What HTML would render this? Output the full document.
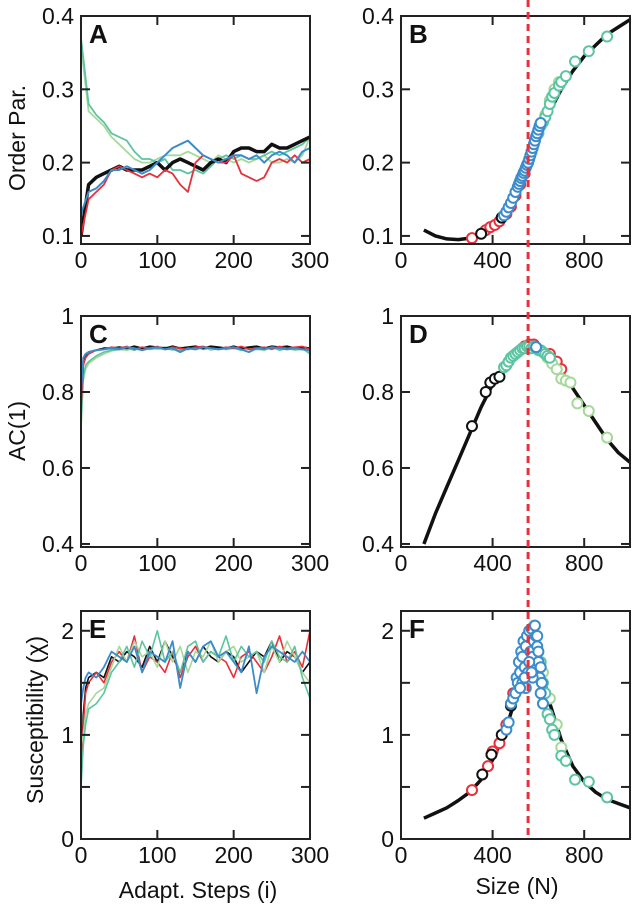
<!DOCTYPE html>
<html><head><meta charset="utf-8"><style>
html,body{margin:0;padding:0;background:#fff;}
svg{display:block;font-family:"Liberation Sans",Arial,sans-serif;}
</style></head><body>
<svg id="fig" width="632" height="908" viewBox="0 0 632 908"></svg>
<script>
// ---------- data ----------
const stepsA = [0,10,20,30,40,50,60,70,80,90,100,110,120,130,140,150,160,170,180,190,200,210,220,230,240,250,260,270,280,290,300];
const orderBlack = [0.10,0.17,0.18,0.185,0.19,0.195,0.19,0.19,0.19,0.195,0.20,0.19,0.20,0.205,0.20,0.195,0.19,0.20,0.205,0.20,0.215,0.22,0.22,0.215,0.215,0.225,0.22,0.22,0.225,0.23,0.235];
const orderRed = [0.10,0.15,0.16,0.17,0.19,0.195,0.19,0.185,0.18,0.185,0.18,0.19,0.185,0.17,0.16,0.20,0.21,0.205,0.20,0.20,0.21,0.185,0.18,0.175,0.18,0.20,0.205,0.20,0.21,0.20,0.205];
const orderBlue = [0.13,0.16,0.165,0.175,0.19,0.19,0.195,0.19,0.185,0.19,0.20,0.21,0.22,0.225,0.23,0.22,0.21,0.205,0.20,0.205,0.21,0.21,0.205,0.21,0.20,0.21,0.215,0.21,0.20,0.215,0.22];
const orderTeal = [0.37,0.28,0.265,0.255,0.24,0.235,0.23,0.215,0.205,0.205,0.20,0.205,0.19,0.19,0.185,0.19,0.185,0.195,0.205,0.21,0.205,0.21,0.205,0.205,0.21,0.215,0.21,0.215,0.22,0.225,0.235];
const orderLight = [0.36,0.27,0.26,0.25,0.235,0.225,0.215,0.205,0.20,0.20,0.205,0.21,0.21,0.21,0.215,0.21,0.205,0.20,0.21,0.205,0.20,0.205,0.20,0.205,0.21,0.20,0.20,0.205,0.20,0.21,0.235];

const stepsCE = [0,3,6,10,20,30,40,50,60,70,80,90,100,110,120,130,140,150,160,170,180,190,200,210,220,230,240,250,260,270,280,290,300];
const acBlack = [0.78,0.88,0.895,0.905,0.91,0.915,0.915,0.918,0.915,0.92,0.915,0.92,0.918,0.915,0.92,0.915,0.918,0.92,0.915,0.92,0.918,0.915,0.92,0.915,0.918,0.92,0.915,0.92,0.918,0.92,0.915,0.918,0.915];
const acRed = [0.76,0.87,0.89,0.9,0.91,0.912,0.918,0.915,0.92,0.912,0.918,0.915,0.92,0.912,0.918,0.915,0.912,0.918,0.92,0.915,0.912,0.918,0.915,0.92,0.912,0.915,0.918,0.912,0.92,0.915,0.918,0.92,0.912];
const acLight = [0.70,0.83,0.86,0.875,0.89,0.9,0.908,0.912,0.91,0.915,0.91,0.918,0.912,0.915,0.91,0.918,0.912,0.915,0.92,0.91,0.915,0.912,0.918,0.91,0.915,0.912,0.91,0.918,0.912,0.915,0.91,0.912,0.905];
const acTeal = [0.72,0.84,0.87,0.88,0.895,0.905,0.91,0.912,0.915,0.91,0.918,0.912,0.915,0.918,0.912,0.91,0.915,0.918,0.912,0.915,0.918,0.912,0.915,0.91,0.918,0.912,0.915,0.918,0.91,0.915,0.912,0.915,0.9];
const acBlue = [0.80,0.89,0.9,0.905,0.91,0.912,0.915,0.912,0.918,0.915,0.91,0.915,0.918,0.912,0.915,0.905,0.915,0.912,0.918,0.915,0.912,0.915,0.918,0.912,0.905,0.915,0.912,0.918,0.915,0.912,0.915,0.912,0.91];

const suscBlack = [0.6,1.2,1.45,1.55,1.6,1.55,1.75,1.7,1.8,1.75,1.65,1.85,1.7,1.9,1.75,1.6,1.8,1.7,1.85,1.75,1.7,1.8,1.75,1.6,1.7,1.8,1.75,1.9,1.7,1.8,1.75,1.6,1.7];
const suscRed = [0.7,1.1,1.4,1.5,1.6,1.5,1.7,1.8,1.7,1.95,1.6,1.75,1.7,1.6,1.8,1.55,1.75,1.85,1.7,1.8,1.75,1.7,1.55,1.75,1.8,1.7,1.6,1.75,1.95,1.7,1.8,1.65,2.0];
const suscLight = [0.9,1.0,1.2,1.3,1.4,1.45,1.65,1.85,1.7,1.9,1.75,1.8,1.65,1.9,1.7,1.85,1.6,1.8,1.75,1.9,1.7,1.8,1.85,1.7,1.75,1.8,1.6,1.85,1.7,1.9,1.75,1.6,1.5];
const suscTeal = [0.5,0.9,1.1,1.25,1.3,1.4,1.6,1.7,1.85,1.65,1.9,1.75,2.0,1.7,1.8,1.6,1.85,1.9,1.7,1.8,1.75,1.95,1.7,1.85,1.75,1.8,1.7,1.9,1.75,1.7,1.85,1.55,1.35];
const suscBlue = [1.3,1.45,1.55,1.6,1.55,1.65,1.8,1.75,1.7,1.85,1.6,1.8,1.75,1.7,1.9,1.45,1.8,1.7,1.85,1.9,1.75,1.8,1.7,1.6,1.85,1.4,1.75,1.85,1.8,1.75,1.7,1.8,1.7];

const sizeCurve = [100,150,200,250,300,350,400,450,500,550,600,650,700,750,800,850,900,950,1000];
const orderCurve = [0.108,0.10,0.096,0.095,0.097,0.102,0.112,0.13,0.16,0.195,0.235,0.27,0.30,0.325,0.345,0.36,0.375,0.385,0.395];
const acCurve = [0.40,0.48,0.55,0.62,0.69,0.76,0.82,0.865,0.895,0.91,0.905,0.885,0.855,0.81,0.765,0.72,0.675,0.64,0.615];
const suscCurve = [0.2,0.25,0.3,0.37,0.45,0.57,0.76,1.0,1.35,1.75,1.75,1.3,0.95,0.7,0.55,0.45,0.38,0.34,0.3];

const bRedN = [310,370,390,410,430,460,480,500,520,540];
const bRedY = [0.097,0.108,0.112,0.115,0.12,0.13,0.14,0.155,0.17,0.185];
const bBlackN = [350,440];
const bBlackY = [0.103,0.125];
const bLightN = [630,650,670,690];
const bLightY = [0.265,0.285,0.30,0.31];
const bTealN = [600,610,620,630,640,650,660,670,690,700,720,760,820,900];
const bTealY = [0.24,0.25,0.255,0.262,0.27,0.28,0.29,0.295,0.305,0.31,0.318,0.338,0.352,0.372];
const bBlueN = [450,460,470,480,490,500,510,515,520,525,530,535,540,545,550,555,560,565,570,575,580,585,590,595,600,605,610];
const bBlueY = [0.128,0.133,0.139,0.145,0.152,0.16,0.167,0.171,0.175,0.179,0.182,0.186,0.189,0.193,0.197,0.20,0.205,0.21,0.215,0.22,0.225,0.23,0.236,0.24,0.245,0.25,0.254];

const dBlackN = [310,370,390,410,430];
const dBlackY = [0.71,0.80,0.825,0.835,0.84];
const dRedN = [540,560,580,650,680,700];
const dRedY = [0.92,0.925,0.925,0.90,0.88,0.86];
const dLightN = [640,660,680,700,720,740,770,820,900];
const dLightY = [0.89,0.875,0.86,0.835,0.83,0.825,0.77,0.75,0.68];
const dTealN = [450,460,470,480,490,500,510,520,530,540,550,560,570,580,590,600,610,620,630,640,650];
const dTealY = [0.865,0.87,0.88,0.89,0.895,0.90,0.905,0.91,0.915,0.915,0.92,0.92,0.915,0.92,0.915,0.91,0.91,0.905,0.90,0.895,0.89];
const dBlueN = [590];
const dBlueY = [0.918];

const fRedN = [310,380,400,430,460,490,520,540];
const fRedY = [0.47,0.70,0.84,0.92,1.10,1.40,1.60,1.70];
const fBlackN = [355,395,440,480];
const fBlackY = [0.62,0.81,1.0,1.28];
const fLightN = [580,620,650,680,700];
const fLightY = [2.05,1.6,1.35,1.1,0.88];
const fTealN = [610,620,630,640,650,660,670,700,720,760,820,900];
const fTealY = [1.7,1.5,1.4,1.2,1.15,1.05,1.0,0.8,0.75,0.57,0.55,0.4];
const fBlueN = [460,470,480,490,500,505,510,515,520,525,530,535,540,545,550,555,560,565,570,575,580,585,590,595,600,605,610,615,620,530,545,560,575,590,600,610,520,540,570,595];
const fBlueY = [1.05,1.12,1.3,1.35,1.4,1.55,1.5,1.7,1.6,1.8,1.75,1.9,1.65,1.85,1.95,1.6,2.0,1.8,2.02,1.75,1.9,2.05,1.6,1.85,1.7,1.55,1.4,1.5,1.3,1.5,1.45,1.7,1.55,1.95,1.8,1.65,1.45,1.55,1.6,1.95];

const criticalN = [555];

const xTicksSteps = [0,100,200,300];
const xTicksSize = [0,400,800];
const yTicksOrder = [0.1,0.2,0.3,0.4];
const yLabelsOrder = ["0.1","0.2","0.3","0.4"];
const yTicksAC = [0.4,0.6,0.8,1];
const yLabelsAC = ["0.4","0.6","0.8","1"];
const yTicksSusc = [0,1,2];
const yLabelsSusc = ["0","1","2"];
const yMinorSusc = [0.5,1.5];

// ---------- drawing ----------
const NS = "http://www.w3.org/2000/svg";
const svg = document.getElementById('fig');
const C = {black:'#111', red:'#e8303a', light:'#a6d89a', teal:'#5cc4a0', blue:'#3a8ccc'};
const TICKFONT = 23;
function mk(tag, attrs, parent){ const e=document.createElementNS(NS,tag); for(const k in attrs) e.setAttribute(k,attrs[k]); (parent||svg).appendChild(e); return e; }
function panel(p){
  p.sx = v => p.x0 + (v-p.xmin)/(p.xmax-p.xmin)*(p.x1-p.x0);
  p.sy = v => p.y1 - (v-p.ymin)/(p.ymax-p.ymin)*(p.y1-p.y0);
  return p;
}
function frame(p, name, letter, xt, yt, yl, minor){
  const g = mk('g',{});
  
  
  const cp = mk('clipPath',{id:'clip-'+name},g);
  mk('rect',{x:p.x0,y:p.y0,width:p.x1-p.x0,height:p.y1-p.y0},cp);
  p.g = mk('g',{'clip-path':'url(#clip-'+name+')'},g);
  p.outer = g;
  const T=9;
  xt.forEach(v=>{
    const x=p.sx(v);
    const t1=mk('line',{x1:x,x2:x,y1:p.y1,y2:p.y1-T,stroke:'#222','stroke-width':2},g);
    
    
    mk('line',{x1:x,x2:x,y1:p.y0,y2:p.y0+T,stroke:'#222','stroke-width':2},g);
    const tx=mk('text',{x:x,y:p.y1+24,'text-anchor':'middle','font-size':TICKFONT,fill:'#111'},g);
    tx.textContent=v;
    
    
  });
  yt.forEach((v,i)=>{
    const y=p.sy(v);
    mk('line',{x1:p.x0,x2:p.x0+T,y1:y,y2:y,stroke:'#222','stroke-width':2},g);
    mk('line',{x1:p.x1,x2:p.x1-T,y1:y,y2:y,stroke:'#222','stroke-width':2},g);
    const tx=mk('text',{x:p.x0-7,y:y+8,'text-anchor':'end','font-size':TICKFONT,fill:'#111'},g);
    tx.textContent=yl[i];
    
    
  });
  (minor||[]).forEach(v=>{
    const y=p.sy(v);
    mk('line',{x1:p.x0,x2:p.x0+T,y1:y,y2:y,stroke:'#222','stroke-width':2},g);
    mk('line',{x1:p.x1,x2:p.x1-T,y1:y,y2:y,stroke:'#222','stroke-width':2},g);
  });
  const lt=mk('text',{x:p.x0+8,y:p.y0+27,'font-size':26,'font-weight':'bold',fill:'#111'},g);
  lt.textContent=letter;
  
  
}
function box(p){
  const r=mk('rect',{x:p.x0,y:p.y0,width:p.x1-p.x0,height:p.y1-p.y0,fill:'none',stroke:'#222','stroke-width':2},p.outer);
  
  
}
function line(p, xs, ys, color, w, name){
  const pts = xs.map((x,i)=>p.sx(x).toFixed(1)+','+p.sy(ys[i]).toFixed(1)).join(' ');
  const pl=mk('polyline',{points:pts,fill:'none',stroke:color,'stroke-width':w,'stroke-linejoin':'round'},p.g);
  
  
}
function dots(p, xs, ys, color, name){
  xs.forEach((x,i)=>{
    const c=mk('circle',{cx:p.sx(x),cy:p.sy(ys[i]),r:5,fill:'#fff',stroke:color,'stroke-width':2},p.g);
    
    
  });
}

const A = panel({x0:81,x1:310,y0:16,y1:244,xmin:0,xmax:300,ymin:0.089,ymax:0.4});
const B = panel({x0:401,x1:630,y0:16,y1:244,xmin:0,xmax:1000,ymin:0.089,ymax:0.4});
const Cp = panel({x0:81,x1:310,y0:316,y1:547,xmin:0,xmax:300,ymin:0.392,ymax:1.0});
const D = panel({x0:401,x1:630,y0:316,y1:547,xmin:0,xmax:1000,ymin:0.392,ymax:1.0});
const E = panel({x0:81,x1:310,y0:611,y1:839,xmin:0,xmax:300,ymin:0,ymax:2.19});
const F = panel({x0:401,x1:630,y0:611,y1:839,xmin:0,xmax:1000,ymin:0,ymax:2.19});

frame(A,'panel-a','A',xTicksSteps,yTicksOrder,yLabelsOrder);
frame(B,'panel-b','B',xTicksSize,yTicksOrder,yLabelsOrder);
frame(Cp,'panel-c','C',xTicksSteps,yTicksAC,yLabelsAC);
frame(D,'panel-d','D',xTicksSize,yTicksAC,yLabelsAC);
frame(E,'panel-e','E',xTicksSteps,yTicksSusc,yLabelsSusc,yMinorSusc);
frame(F,'panel-f','F',xTicksSize,yTicksSusc,yLabelsSusc,yMinorSusc);

// A
line(A,stepsA,orderLight,C.light,1.8,'order-light-series');
line(A,stepsA,orderTeal,C.teal,1.8,'order-teal-series');
line(A,stepsA,orderBlack,C.black,3.5,'order-black-series');
line(A,stepsA,orderRed,C.red,1.8,'order-red-series');
line(A,stepsA,orderBlue,C.blue,2,'order-blue-series');
// C
line(Cp,stepsCE,acLight,C.light,1.6,'ac-light-series');
line(Cp,stepsCE,acTeal,C.teal,1.6,'ac-teal-series');
line(Cp,stepsCE,acBlack,C.black,2,'ac-black-series');
line(Cp,stepsCE,acRed,C.red,1.6,'ac-red-series');
line(Cp,stepsCE,acBlue,C.blue,2,'ac-blue-series');
// E
line(E,stepsCE,suscBlack,C.black,1.6,'susc-black-series');
line(E,stepsCE,suscRed,C.red,1.6,'susc-red-series');
line(E,stepsCE,suscLight,C.light,1.6,'susc-light-series');
line(E,stepsCE,suscTeal,C.teal,1.6,'susc-teal-series');
line(E,stepsCE,suscBlue,C.blue,1.8,'susc-blue-series');
// B
line(B,sizeCurve,orderCurve,C.black,3.5,'order-fit-curve');
dots(B,bRedN,bRedY,C.red,'order-red-point');
dots(B,bBlackN,bBlackY,C.black,'order-black-point');
dots(B,bLightN,bLightY,C.light,'order-light-point');
dots(B,bTealN,bTealY,C.teal,'order-teal-point');
dots(B,bBlueN,bBlueY,C.blue,'order-blue-point');
// D
line(D,sizeCurve,acCurve,C.black,3.5,'ac-fit-curve');
dots(D,dBlackN,dBlackY,C.black,'ac-black-point');
dots(D,dRedN,dRedY,C.red,'ac-red-point');
dots(D,dLightN,dLightY,C.light,'ac-light-point');
dots(D,dTealN,dTealY,C.teal,'ac-teal-point');
dots(D,dBlueN,dBlueY,C.blue,'ac-blue-point');
// F
line(F,sizeCurve,suscCurve,C.black,3.5,'susc-fit-curve');
dots(F,fRedN,fRedY,C.red,'susc-red-point');
dots(F,fBlackN,fBlackY,C.black,'susc-black-point');
dots(F,fLightN,fLightY,C.light,'susc-light-point');
dots(F,fTealN,fTealY,C.teal,'susc-teal-point');
dots(F,fBlueN,fBlueY,C.blue,'susc-blue-point');

[A,B,Cp,D,E,F].forEach(box);

// critical line
const cx = B.sx(criticalN[0]);
const cl = mk('line',{x1:cx,x2:cx,y1:0,y2:F.y1,stroke:C.red,'stroke-width':3,'stroke-dasharray':'7,5'});



// axis titles
function title(txt,x,y,rot,name){
  const t=mk('text',{x:x,y:y,'text-anchor':'middle','font-size':23,fill:'#111',transform:rot?`rotate(-90 ${x} ${y})`:''});
  t.textContent=txt;
  
  
}
title('Order Par.',25,138,true,'y-axis-title-order');
title('AC(1)',25,431,true,'y-axis-title-ac');
title('Susceptibility (\u03c7)',43,720,true,'y-axis-title-susceptibility');
title('Adapt. Steps (i)',198,898,false,'x-axis-title-steps');
title('Size (N)',517,894,false,'x-axis-title-size');
</script>
</body></html>
